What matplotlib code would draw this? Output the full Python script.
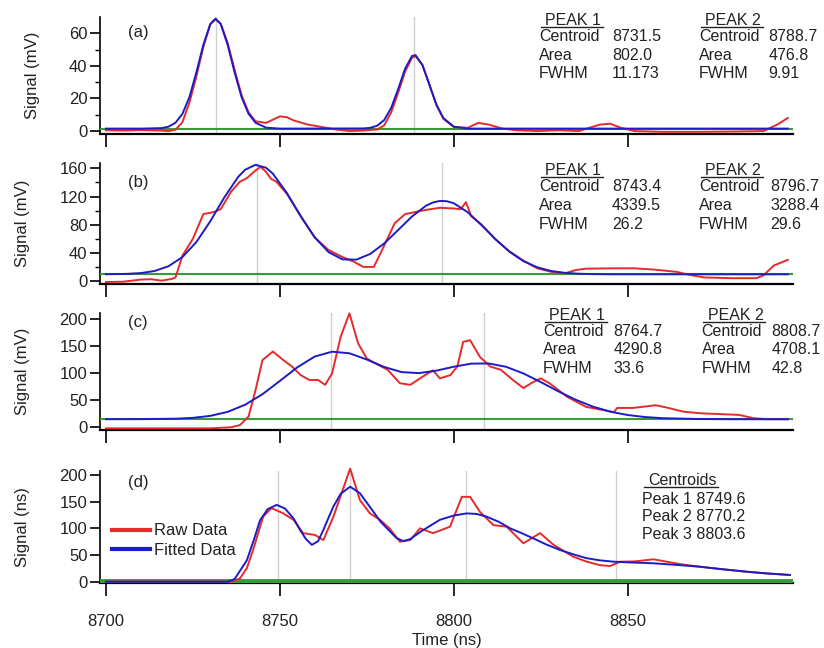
import matplotlib
matplotlib.use('Agg')
import matplotlib.pyplot as plt
from matplotlib.lines import Line2D

plt.rcParams['font.family'] = ['Liberation Sans', 'DejaVu Sans']

# ---------------- data ----------------
# (a)
a_raw_t = [8700, 8705, 8710, 8716, 8718, 8720, 8722, 8724, 8726, 8728, 8730, 8731.5, 8733, 8735, 8737,
           8739, 8741, 8743, 8746, 8748, 8750, 8752, 8754, 8758, 8762, 8766, 8770, 8774, 8778, 8780,
           8782, 8784, 8786, 8788, 8789, 8791, 8793, 8795, 8797, 8800, 8804, 8807, 8810, 8814, 8818,
           8824, 8830, 8836, 8839, 8842, 8845, 8848, 8852, 8860, 8870, 8880, 8889, 8893, 8896]
a_raw_v = [0.5, 0.3, 0.6, 0.3, 0.0, 0.8, 5.5, 17.5, 33.5, 51.5, 65.5, 68.5, 66.0, 54.0, 37.5,
           22.0, 11.5, 6.0, 5.0, 7.0, 9.0, 8.5, 6.5, 4.0, 2.5, 1.0, 0.0, 0.3, 1.0, 3.5,
           11.5, 23.5, 36.5, 45.0, 46.0, 40.5, 28.5, 16.0, 7.5, 2.5, 2.0, 5.0, 4.0, 1.5, 0.5,
           0.0, 0.5, 0.0, 2.0, 4.0, 4.5, 2.0, 0.0, -0.5, -0.5, -0.3, 0.0, 4.0, 8.0]
a_fit_t = [8700, 8710, 8716, 8718, 8720, 8722, 8724, 8726, 8728, 8730, 8731.5, 8733, 8735, 8737, 8739,
           8741, 8743, 8746, 8750, 8774, 8776, 8778, 8780, 8782, 8784, 8786, 8788, 8789, 8791, 8793,
           8795, 8797, 8800, 8804, 8896]
a_fit_v = [1.5, 1.5, 1.8, 2.7, 5.1, 10.6, 20.8, 36.0, 52.9, 65.7, 69.0, 65.7, 52.9, 36.0, 20.8,
           10.6, 5.1, 2.1, 1.5, 1.6, 2.0, 3.3, 6.8, 14.2, 25.7, 38.3, 46.1, 46.6, 40.4, 28.3,
           16.2, 8.0, 2.7, 1.5, 1.5]

# (b)
b_raw_t = [8700, 8705, 8710, 8713, 8716, 8719, 8720, 8722, 8725, 8728, 8731, 8733, 8736, 8738.5, 8740.5,
           8743, 8744.5, 8746, 8747.5, 8749, 8752, 8756, 8760, 8764, 8768, 8771, 8774, 8777, 8779, 8781,
           8783, 8786, 8788, 8792, 8796, 8800, 8802, 8803.5, 8805, 8808, 8812, 8816, 8820, 8824, 8828,
           8832, 8835, 8838, 8846, 8852, 8858, 8864, 8868, 8872, 8880, 8887, 8889, 8892, 8896]
b_raw_v = [-1.5, -1.0, 2.0, 2.5, 0.5, 3.0, 5.0, 36.0, 60.0, 95.0, 98.0, 102.0, 127.0, 141.0, 146.0,
           157.0, 162.0, 155.0, 145.0, 141.0, 124.0, 92.0, 62.0, 44.0, 34.0, 28.0, 20.0, 20.0, 40.0, 61.0,
           82.0, 95.0, 97.0, 101.0, 104.0, 103.0, 102.0, 112.0, 92.0, 80.0, 59.0, 42.0, 29.0, 18.0, 13.0,
           11.0, 15.5, 17.5, 18.0, 18.0, 16.0, 13.0, 8.5, 5.0, 4.0, 4.0, 8.0, 22.0, 30.0]
b_fit_t = [8700, 8706, 8710, 8714, 8718, 8722, 8726, 8730, 8734, 8738, 8740, 8743, 8746, 8748, 8752,
           8756, 8760, 8764, 8768, 8772, 8776, 8780, 8784, 8788, 8792, 8794, 8796, 8798, 8800, 8804,
           8808, 8812, 8816, 8820, 8824, 8828, 8832, 8836, 8840, 8846, 8896]
b_fit_v = [9.6, 10.1, 11.2, 14.2, 21.0, 34.0, 55.3, 84.8, 118.4, 147.8, 158.0, 165.0, 160.9, 152.4, 125.1,
           92.0, 62.1, 41.0, 30.7, 30.3, 38.5, 53.4, 72.4, 91.7, 106.9, 111.5, 113.7, 113.3, 110.4, 97.7,
           79.2, 59.3, 41.6, 28.2, 19.4, 14.2, 11.5, 10.3, 9.8, 9.5, 9.5]

# (c)
c_raw_t = [8700, 8715, 8730, 8736, 8738.5, 8741, 8743, 8745, 8748, 8751, 8753.5, 8756, 8758.5, 8761, 8763,
           8765, 8767.5, 8770, 8772.5, 8775, 8778, 8781, 8784.5, 8787.5, 8791, 8794, 8796, 8799, 8801, 8802.7,
           8804.7, 8807.5, 8810.5, 8813.5, 8817, 8820, 8822.5, 8825, 8827.5, 8832.5, 8838, 8843, 8846, 8847,
           8851.5, 8855.5, 8858, 8861, 8866, 8871, 8882, 8886, 8890, 8896]
c_raw_v = [-3, -3, -3, -1, 3, 19, 68, 124, 140, 124, 112, 96, 87, 87, 78,
           99, 168, 211, 155, 127, 116, 106, 81, 78, 93, 105, 90, 96, 112, 158,
           161, 130, 112, 106, 87, 72, 82, 90, 81, 56, 37, 31, 27, 35,
           35, 38, 40, 36, 28, 25, 22, 16, 14, 14]
c_fit_t = [8700, 8710, 8720, 8725, 8730, 8735, 8740, 8745, 8750, 8755, 8760, 8765, 8770, 8775, 8780,
           8785, 8790, 8795, 8800, 8805, 8810, 8815, 8820, 8825, 8830, 8835, 8840, 8845, 8850, 8855,
           8860, 8870, 8880, 8896]
c_fit_v = [14.0, 14.1, 14.9, 16.5, 20.2, 27.7, 40.9, 60.5, 85.2, 110.5, 130.6, 139.7, 136.7, 125.0, 111.2,
           101.7, 99.8, 104.4, 111.7, 117.4, 117.8, 111.6, 99.2, 83.1, 66.0, 50.3, 37.4, 28.0, 21.8, 18.0,
           15.9, 14.4, 14.0, 14.0]

# (d)
d_raw_t = [8700, 8736, 8738.5, 8740.5, 8742.3, 8745.2, 8747.6, 8751, 8753.9, 8756.7, 8760.1, 8762.5, 8765.4,
           8770.2, 8773, 8775.9, 8778.8, 8781.5, 8784.5, 8787.5, 8790.3, 8794, 8798.9, 8802.3, 8804.7,
           8807.5, 8811.4, 8815.2, 8820, 8824.8, 8828.7, 8834.3, 8838, 8842, 8844.9, 8847.8, 8852, 8857.4,
           8861.2, 8866, 8870.8, 8877, 8884.2, 8890, 8896.6]
d_raw_v = [0, 0, 6, 25, 59.5, 122, 138, 128, 116, 91, 87.6, 78, 122,
           212, 153, 128, 116, 100, 75, 78, 100, 91, 103, 159, 159,
           131, 106, 103, 72, 91, 69, 47, 38, 31, 29.4, 37.5, 38, 42,
           37.5, 32, 28, 23.5, 18.5, 15.5, 12.6]
d_fit_t = [8700, 8735, 8737, 8740.5, 8742.5, 8744.3, 8746.5, 8749.1, 8751.5, 8754, 8755.8, 8757.5, 8759.2,
           8761, 8762.5, 8764, 8765.4, 8767.5, 8770.2, 8773, 8775, 8776.9, 8779, 8781.7, 8783.5, 8785.5,
           8787.5, 8790.3, 8793, 8796, 8800, 8803.7, 8806.5, 8809.4, 8813, 8816.2, 8819.5, 8822.9, 8826.5,
           8830.5, 8834.5, 8838.2, 8842, 8845.9, 8851, 8857.4, 8864, 8870.8, 8877, 8884.2, 8890, 8896.6]
d_fit_v = [0, 0, 5, 40, 78, 115, 136, 144, 137, 118, 97, 80, 69,
           76, 97, 120, 141, 165, 178, 166, 148, 131, 112, 94, 82, 76,
           80, 93, 104, 116, 124, 128, 127, 122, 112, 100, 91, 81, 70,
           59.5, 51, 44, 40, 37.5, 36, 34.5, 31.5, 28, 23.5, 18.8, 15.5, 12.6]

# fitted peak parameters printed on the figure
a_peaks = [("PEAK 1", "8731.5", "802.0", "11.173"), ("PEAK 2", "8788.7", "476.8", "9.91")]
b_peaks = [("PEAK 1", "8743.4", "4339.5", "26.2"), ("PEAK 2", "8796.7", "3288.4", "29.6")]
c_peaks = [("PEAK 1", "8764.7", "4290.8", "33.6"), ("PEAK 2", "8808.7", "4708.1", "42.8")]
d_centroids = [("Peak 1", "8749.6"), ("Peak 2", "8770.2"), ("Peak 3", "8803.6")]

a_marks = [8731.5, 8788.7]
b_marks = [8743.4, 8796.7]
c_marks = [8764.7, 8808.7]
d_marks = [8749.6, 8770.2, 8803.6, 8846.5]

a_base, b_base, c_base, d_base = 1.5, 9.5, 14.0, 1.0

x_ticks = [8700, 8750, 8800, 8850]

# ---------------- styling ----------------
RED = '#e62a2a'
BLUE = '#1c1cc6'
GREEN = '#3a9a3a'
GRAY = '#d0d0d0'
TXT = '#222222'

W, H = 824, 648
fig = plt.figure(figsize=(W / 100, H / 100), dpi=100)


def fx(x):
    return x / W


def fy(y):
    return 1 - y / H


left, right = 100, 793
panels = [
    dict(lab='(a)', top=17, bot=134, ylim=(-1.8, 70), major=[0, 20, 40, 60], minor=[10, 30, 50],
         ylabel='Signal (mV)', raw=(a_raw_t, a_raw_v), fit=(a_fit_t, a_fit_v), base=a_base, marks=a_marks,
         laby=32),
    dict(lab='(b)', top=163, bot=284.3, ylim=(-4.7, 167.6), major=[0, 40, 80, 120, 160],
         minor=[20, 60, 100, 140], ylabel='Signal (mV)', raw=(b_raw_t, b_raw_v), fit=(b_fit_t, b_fit_v),
         base=b_base, marks=b_marks, laby=182),
    dict(lab='(c)', top=313, bot=430, ylim=(-6.1, 211.7), major=[0, 50, 100, 150, 200], minor=[],
         ylabel='Signal (mV)', raw=(c_raw_t, c_raw_v), fit=(c_fit_t, c_fit_v), base=c_base, marks=c_marks,
         laby=323),
    dict(lab='(d)', top=470.5, bot=583.3, ylim=(-3, 208.4), major=[0, 50, 100, 150, 200], minor=[],
         ylabel='Signal (ns)', raw=(d_raw_t, d_raw_v), fit=(d_fit_t, d_fit_v), base=d_base, marks=d_marks,
         laby=482),
]

axes = []
for i, p in enumerate(panels):
    ax = fig.add_axes([fx(left), fy(p['bot']), (right - left) / W, (p['bot'] - p['top']) / H])
    for m in p['marks']:
        ax.axvline(m, color=GRAY, lw=1.0, zorder=1)
    ax.axhline(p['base'], color=GREEN, lw=3.5 if i == 3 else 1.5, zorder=2.6)
    ax.plot(*p['raw'], color=RED, lw=1.4, zorder=3, clip_on=False)
    ax.plot(*p['fit'], color=BLUE, lw=1.4, zorder=4, clip_on=False)
    ax.set_xlim(8698.3, 8897.5)
    ax.set_ylim(*p['ylim'])
    ax.set_xticks(x_ticks)
    ax.set_yticks(p['major'])
    ax.set_yticks(p['minor'], minor=True)
    for s in ['top', 'right']:
        ax.spines[s].set_visible(False)
    ax.spines['left'].set_linewidth(1.2)
    ax.spines['bottom'].set_linewidth(1.6)
    ax.tick_params(axis='x', direction='out', length=9, width=1.2, pad=13, labelsize=12,
                   labelcolor=TXT, labelbottom=(i == 3))
    ax.tick_params(axis='y', which='major', direction='out', length=7, width=1.2, pad=2,
                   labelsize=12, labelcolor=TXT)
    ax.tick_params(axis='y', which='minor', direction='out', length=3.5, width=1.0)
    ax.set_ylabel(p['ylabel'], fontsize=12, color=TXT, labelpad=21)
    ax.patch.set_alpha(0)
    fig.text(fx(128), fy(p['laby']), p['lab'], fontsize=12, color=TXT, va='center')
    axes.append(ax)

axes[3].set_xlabel('Time (ns)', fontsize=12, color=TXT, labelpad=3)

leg = axes[3].legend(handles=[Line2D([], [], color=RED, lw=3), Line2D([], [], color=BLUE, lw=3)],
                     labels=['Raw Data', 'Fitted Data'], loc='center left', bbox_to_anchor=(0.0, 0.38),
                     frameon=False, fontsize=12, handlelength=2.3, handletextpad=0.25,
                     labelspacing=0.25, borderaxespad=0.5, borderpad=0.2)
for t in leg.get_texts():
    t.set_color(TXT)

# ---------------- peak tables ----------------
FS = 11.5
headers = []
tables = [
    (a_peaks, 20.5, [539, 699], [612, 768.5]),
    (b_peaks, 170.7, [539, 699], [612, 770]),
    (c_peaks, 315, [543, 701.5], [613.5, 771.5]),
]
row_off = [16, 35, 53.5]
for peaks, y0, cols, vals in tables:
    for (name, cen, area, fwhm), cx, vx in zip(peaks, cols, vals):
        headers.append(fig.text(fx(cx + 6), fy(y0), name, fontsize=FS, color=TXT, va='center'))
        for lbl, v, dy in zip(['Centroid', 'Area', 'FWHM'], [cen, area, fwhm], row_off):
            fig.text(fx(cx), fy(y0 + dy), lbl, fontsize=FS, color=TXT, va='center')
            fig.text(fx(vx), fy(y0 + dy), v, fontsize=FS, color=TXT, va='center')

headers.append(fig.text(fx(648), fy(480.7), 'Centroids', fontsize=FS, color=TXT, va='center'))
for k, (name, cen) in enumerate(d_centroids):
    fig.text(fx(641.7), fy(499.3 + 17.4 * k), name + ' ' + cen, fontsize=FS, color=TXT, va='center')

# underline the table headers
fig.canvas.draw()
r = fig.canvas.get_renderer()
inv = fig.transFigure.inverted()
for t in headers:
    bb = t.get_window_extent(r)
    (x0, y0), (x1, _) = inv.transform([(bb.x0 - 4, bb.y0 + 1), (bb.x1 + 2, bb.y0 + 1)])
    fig.add_artist(Line2D([x0, x1], [y0, y0], transform=fig.transFigure, color=TXT, lw=1.0))

fig.savefig('out.png', dpi=100)
